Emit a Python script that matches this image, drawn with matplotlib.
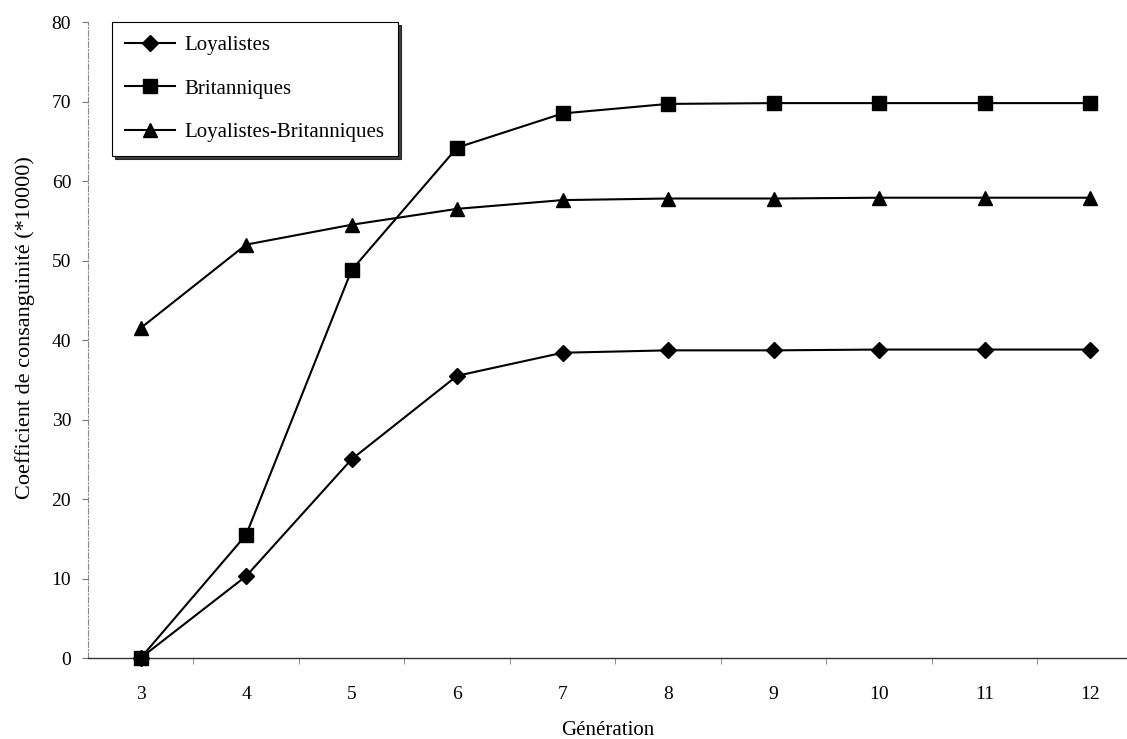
import numpy as np
import matplotlib
matplotlib.use("Agg")
import matplotlib.pyplot as plt

plt.rcParams['font.family'] = ['Liberation Serif', 'DejaVu Serif']

generations = [3, 4, 5, 6, 7, 8, 9, 10, 11, 12]
loyalistes = [0, 10.3, 25.0, 35.5, 38.4, 38.7, 38.7, 38.8, 38.8, 38.8]
britanniques = [0, 15.5, 48.8, 64.2, 68.5, 69.7, 69.8, 69.8, 69.8, 69.8]
loy_brit = [41.5, 52.0, 54.5, 56.5, 57.6, 57.8, 57.8, 57.9, 57.9, 57.9]
y_ticks = [0, 10, 20, 30, 40, 50, 60, 70, 80]

fig = plt.figure(figsize=(11.27, 7.39), dpi=100)
ax = fig.add_axes([0.078, 0.1096, 0.922, 0.8606])

ax.plot(generations, loyalistes, color='black', lw=1.5, marker='D', ms=8,
        label='Loyalistes', clip_on=False, zorder=3)
ax.plot(generations, britanniques, color='black', lw=1.5, marker='s', ms=10,
        label='Britanniques', clip_on=False, zorder=3)
ax.plot(generations, loy_brit, color='black', lw=1.5, marker='^', ms=10,
        label='Loyalistes-Britanniques', clip_on=False, zorder=3)

ax.set_xlim(2.5, 12.35)
ax.set_ylim(0, 80)
ax.set_yticks(y_ticks)
ax.set_xticks(generations)
ax.set_xticks(np.arange(3.5, 12.5, 1), minor=True)
ax.tick_params(axis='x', which='major', length=0, pad=20, labelsize=14)
ax.tick_params(axis='x', which='minor', length=4, color='#777777')
ax.tick_params(axis='y', length=4, color='#777777', pad=8, labelsize=14)

for s in ['top', 'right']:
    ax.spines[s].set_visible(False)
ax.spines['left'].set_color('#888888')
ax.spines['left'].set_linewidth(0.8)
ax.spines['left'].set_linestyle((0, (5, 2, 1, 2)))
ax.spines['bottom'].set_color('#333333')
ax.spines['bottom'].set_linewidth(1.0)

ax.set_xlabel('Génération', fontsize=15, labelpad=13)
ax.set_ylabel('Coefficient de consanguinité (*10000)', fontsize=16)
ax.yaxis.set_label_coords(-0.051, 0.52)

leg = ax.legend(loc='upper left', bbox_to_anchor=(0.023, 1.0), borderaxespad=0,
                fontsize=15, frameon=True, fancybox=False,
                shadow={'color': 'black', 'alpha': 0.75},
                edgecolor='black', handlelength=2.4, handletextpad=0.45,
                labelspacing=1.15, borderpad=0.65)
leg.get_frame().set_linewidth(0.8)

fig.savefig('out.png', dpi=100)
